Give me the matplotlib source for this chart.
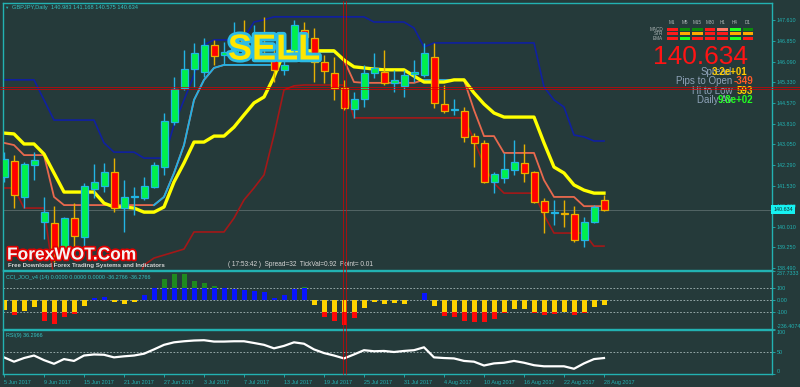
import matplotlib
matplotlib.use("Agg")
import matplotlib.pyplot as plt
import matplotlib.patheffects as pe
from matplotlib.lines import Line2D
from matplotlib.patches import Rectangle

plt.rcParams['font.family'] = ['Liberation Sans', 'DejaVu Sans']

# ---- data (GBPJPY daily, 5 Jun - 28 Aug 2017) ----
date_labels = ['5 Jun 2017', '9 Jun 2017', '15 Jun 2017', '21 Jun 2017', '27 Jun 2017',
               '3 Jul 2017', '7 Jul 2017', '13 Jul 2017', '19 Jul 2017', '25 Jul 2017',
               '31 Jul 2017', '4 Aug 2017', '10 Aug 2017', '16 Aug 2017', '22 Aug 2017',
               '28 Aug 2017']

opens = [141.84, 142.43, 141.11, 142.28, 140.18, 140.15, 139.19, 140.33, 139.63, 141.40,
         141.51, 142.03, 140.70, 141.11, 141.07, 141.47, 142.21, 143.87, 145.12, 145.82,
         145.71, 146.71, 146.34, 146.45, 146.96, 146.52, 146.78, 146.23, 145.79, 146.52,
         147.26, 146.96, 146.08, 145.68, 145.12, 144.35, 144.72, 145.68, 145.71, 145.31,
         145.20, 145.64, 145.60, 146.26, 144.53, 144.31, 144.27, 143.35, 143.10, 141.66,
         141.81, 142.10, 142.36, 142.03, 140.96, 140.52, 140.52, 140.48, 139.52, 140.18,
         140.983]
highs = [142.76, 142.65, 142.40, 142.76, 141.11, 140.77, 140.37, 140.88, 141.62, 142.32,
         142.36, 142.54, 141.73, 141.47, 141.84, 142.40, 144.20, 145.53, 146.52, 146.78,
         146.96, 146.89, 146.82, 147.55, 147.63, 147.44, 147.74, 146.71, 146.34, 147.63,
         147.55, 147.33, 146.34, 146.26, 145.42, 144.97, 145.97, 146.41, 146.52, 145.79,
         145.79, 146.15, 146.78, 146.78, 145.23, 144.72, 144.42, 143.46, 143.21, 142.03,
         142.73, 143.21, 143.06, 142.06, 141.07, 141.00, 141.00, 140.77, 140.37, 140.81,
         141.168]
lows = [141.66, 140.70, 140.70, 141.73, 139.56, 138.71, 139.04, 139.22, 139.22, 141.07,
        141.29, 140.55, 139.82, 140.44, 141.00, 141.44, 141.92, 143.76, 145.05, 145.16,
        145.53, 145.97, 145.97, 146.23, 146.34, 146.15, 146.34, 145.34, 145.60, 146.45,
        146.71, 145.34, 145.31, 144.68, 144.31, 144.02, 144.42, 145.49, 145.23, 144.97,
        144.79, 145.34, 145.53, 144.38, 144.20, 144.13, 143.13, 142.21, 141.62, 141.25,
        141.62, 141.92, 141.66, 140.88, 139.78, 140.07, 140.00, 139.45, 139.26, 140.15,
        140.575]
closes = [142.51, 141.18, 142.32, 142.47, 140.55, 139.19, 140.33, 139.67, 141.51, 141.66,
          142.03, 140.70, 141.11, 141.14, 141.51, 142.28, 143.91, 145.09, 145.82, 146.41,
          146.71, 146.30, 146.45, 146.96, 146.63, 146.89, 146.63, 145.79, 145.97, 147.44,
          147.00, 146.08, 145.75, 145.12, 144.38, 144.72, 145.68, 145.86, 145.31, 145.42,
          145.60, 145.71, 146.41, 144.57, 144.27, 144.33, 143.32, 143.10, 141.66, 141.95,
          142.14, 142.40, 141.99, 140.92, 140.55, 140.54, 140.50, 139.52, 140.18, 140.74,
          140.634]

upper_band = [145.42, 145.42, 145.42, 145.42, 144.68, 143.94, 143.94, 143.94, 143.94, 143.94,
              143.10, 142.76, 142.76, 142.76, 142.54, 142.54, 142.54, 143.76, 144.68, 145.60,
              146.71, 146.89, 146.89, 146.89, 146.96, 147.55, 147.63, 147.74, 147.74, 147.74,
              147.74, 147.74, 147.74, 147.74, 147.74, 147.74, 147.74, 147.55, 147.55, 147.55,
              147.55, 147.33, 146.63, 146.78, 146.78, 146.78, 146.78, 146.78, 146.78, 146.78,
              146.78, 146.78, 146.78, 146.78, 145.16, 144.68, 144.42, 143.39, 143.32, 143.17,
              143.17]
lower_band = [141.44, 141.44, 140.70, 140.70, 140.70, 138.05, 137.68, 137.68, 137.68, 137.68,
              137.68, 137.68, 137.68, 137.68, 138.60, 138.86, 138.97, 139.08, 139.19, 139.82,
              139.82, 139.82, 139.82, 140.33, 141.00, 141.44, 141.92, 143.39, 145.05, 145.20,
              145.23, 145.23, 145.23, 145.23, 145.23, 144.02, 144.02, 144.02, 144.02, 144.02,
              144.02, 144.02, 144.02, 144.02, 144.02, 144.02, 144.02, 143.21, 142.28, 141.62,
              141.25, 141.25, 141.25, 141.25, 140.44, 139.78, 139.78, 139.78, 139.78, 139.30,
              139.30]
slow_line = [143.46, 143.43, 143.06, 143.06, 142.69, 141.99, 141.29, 141.29, 141.29, 141.29,
             140.88, 140.74, 140.74, 140.70, 140.55, 140.55, 140.74, 141.66, 142.36, 143.13,
             143.13, 143.35, 143.35, 143.68, 144.13, 144.57, 144.79, 145.53, 146.45, 146.49,
             146.49, 146.49, 146.49, 146.49, 146.15, 145.90, 145.86, 145.82, 145.79, 145.79,
             145.79, 145.56, 145.34, 145.34, 145.34, 145.42, 145.42, 144.94, 144.53, 144.20,
             144.05, 144.05, 144.05, 144.05, 143.10, 142.21, 141.99, 141.55, 141.36, 141.25,
             141.25]
fast_line = [143.10, 143.02, 142.65, 142.65, 142.65, 141.11, 140.81, 140.81, 140.81, 140.81,
             140.81, 140.81, 140.81, 140.81, 140.81, 140.81, 141.11, 141.99, 143.02, 144.68,
             145.42, 145.86, 145.97, 145.97, 145.97, 145.97, 145.97, 145.97, 146.34, 146.45,
             146.45, 146.45, 146.45, 146.45, 146.15, 145.34, 145.31, 145.31, 145.31, 145.31,
             145.31, 145.31, 145.42, 145.42, 145.42, 145.42, 145.42, 144.31, 143.35, 143.35,
             142.73, 142.73, 142.73, 142.73, 141.73, 141.11, 141.11, 141.11, 140.77, 140.77,
             140.77]
fast_up_runs = [(15, 33), (42, 45)]

cci = [-83, -125, -90, -57, -170, -195, -140, -110, -50, 15,
       28, -12, -28, -17, 42, 98, 175, 215, 215, 160,
       140, 112, 95, 90, 85, 78, 62, 20, 40, 88,
       105, -38, -135, -175, -200, -145, -62, -17, -28, -22,
       -30, 3, 55, -50, -130, -135, -170, -180, -180, -155,
       -105, -75, -75, -105, -120, -112, -97, -120, -102, -55,
       -36.2766]
rsi = [37.8, 28.0, 36.3, 42.0, 31.5, 23.2, 33.9, 29.7, 42.0, 44.4,
       43.7, 37.8, 40.2, 42.0, 46.1, 55.9, 66.3, 72.0, 74.4, 76.1,
       76.8, 73.7, 73.7, 74.4, 74.4, 70.5, 66.3, 58.3, 63.9, 72.0,
       68.8, 55.9, 47.6, 42.0, 35.4, 44.4, 54.1, 51.7, 52.4, 50.0,
       52.4, 54.1, 60.7, 37.8, 36.3, 35.4, 29.7, 28.0, 19.3, 24.1,
       25.6, 29.7, 25.6, 20.0, 17.5, 17.5, 17.5, 11.9, 24.1, 33.9,
       36.30]

price_ticks = [138.490, 139.250, 140.010, 140.770, 141.530, 142.290, 143.050,
               143.810, 144.570, 145.330, 146.090, 146.850, 147.610]
cci_ticks = [237.7333, 100, 0, -100, -236.4074]
cci_tick_labels = ['237.7333', '100', '0.00', '-100', '-236.4074']
rsi_ticks = [100, 50, 0]

timeframes = ['M1', 'M5', 'M15', 'M30', 'H1', 'H4', 'D1']
signal_rows = ['MACD', 'STR', 'EMA']
signal_colors = [
    ['#ff1a1a', '#0c8a0c', '#0c8a0c', '#ff1a1a', '#ff7a66', '#22ff22', '#0c8a0c'],
    ['#ff1a1a', '#ffaa00', '#ffaa00', '#ff1a1a', '#ff1a1a', '#ffaa00', '#ffaa00'],
    ['#ff1a1a', '#22ff22', '#ff1a1a', '#ff1a1a', '#ff1a1a', '#22ff22', '#ff1a1a'],
]
info_rows = [('Spread', '3.2e+01', '#ffcc00', 747, 72),
             ('Pips to Open', '-349', '#ff5a28', 753, 81),
             ('Hi to Low', '593', '#ffcc00', 753, 91),
             ('Daily Av', '9.8e+02', '#22ff22', 753, 100)]

# ---- styling ----
BG = '#253a3a'
TEAL = '#22b2b2'
W, H = 800, 387

fig = plt.figure(figsize=(8, 3.87), dpi=100)
fig.patch.set_facecolor(BG)


def box(x0, y0, x1, y1):
    return [x0 / W, 1 - y1 / H, (x1 - x0) / W, (y1 - y0) / H]


ax = fig.add_axes(box(3, 3, 772, 270))
axc = fig.add_axes(box(3, 271, 772, 329))
axr = fig.add_axes(box(3, 330, 772, 374))

for a in (ax, axc, axr):
    a.set_facecolor(BG)
    a.set_xlim(-0.1, 76.8)
    for s in a.spines.values():
        s.set_color(TEAL)
        s.set_linewidth(1.0)
    a.yaxis.tick_right()
    a.tick_params(axis='y', colors=TEAL, labelsize=3.9, length=2, pad=1.5, width=0.6)
    a.tick_params(axis='x', colors=TEAL, labelsize=3.9, length=2, pad=2, width=0.6)
    a.set_xticks([])

x = list(range(len(closes)))

# ---- main price panel ----
ax.set_ylim(138.42, 148.25)
ax.set_yticks(price_ticks)
ax.set_yticklabels(['%.3f' % p for p in price_ticks])

ax.plot(x, upper_band, color='#1020a0', lw=1.2, zorder=2)
ax.plot(x, lower_band, color='#a31818', lw=1.2, zorder=2)
ax.plot(x, fast_line, color='#e8694e', lw=1.3, zorder=2)
for a0, a1 in fast_up_runs:
    ax.plot(x[a0:a1 + 1], fast_line[a0:a1 + 1], color='#1fb0e6', lw=1.3, zorder=2.1)
ax.plot(x, slow_line, color='#ffff00', lw=2.4, zorder=2.2)
ax.axhline(closes[-1], color='#5a6c6c', lw=0.6, zorder=1)

for i, (o, h, l, c) in enumerate(zip(opens, highs, lows, closes)):
    bull = c >= o
    body = '#00f04c' if bull else '#ff0000'
    edge = '#22b4e4' if bull else '#e8b000'
    ax.vlines(i, l, h, color=edge, lw=1.0, zorder=3)
    ax.bar(i, max(abs(c - o), 0.012), bottom=min(o, c), width=0.7, color=body,
           edgecolor=edge, linewidth=0.9, zorder=4)

ax.text(1.0015, closes[-1], '%.3f' % closes[-1], transform=ax.get_yaxis_transform(),
        fontsize=3.9, color='#10302f', va='center', ha='left', zorder=10, clip_on=False,
        bbox=dict(boxstyle='square,pad=0.35', fc='#16f2f2', ec='none'))

# ---- CCI panel ----
axc.set_ylim(-236.4074, 237.7333)
axc.set_yticks(cci_ticks)
axc.set_yticklabels(cci_tick_labels)
for lvl in (100, 0, -100):
    axc.axhline(lvl, color='#a8baba', lw=0.6, ls=(0, (2, 2)), zorder=1)
for i, v in enumerate(cci):
    if v >= 0:
        axc.bar(i, min(v, 100), width=0.5, color='#0814ff', zorder=2)
        if v > 100:
            axc.bar(i, v - 100, bottom=100, width=0.5, color='#1f8a1f', zorder=2)
    else:
        axc.bar(i, max(v, -100), width=0.5, color='#ffd500', zorder=2)
        if v < -100:
            axc.bar(i, v + 100, bottom=-100, width=0.5, color='#ff0a0a', zorder=2)

# ---- RSI panel ----
axr.set_ylim(0, 100)
axr.set_yticks(rsi_ticks)
axr.set_yticklabels([str(t) for t in rsi_ticks])
axr.axhline(50, color='#a8baba', lw=0.6, ls=(0, (2, 2)), zorder=1)
axr.plot(x, rsi, color='white', lw=1.6, zorder=2)
axr.set_xticks(range(0, len(closes), 4))
axr.set_xticklabels(date_labels, ha='left')

# edge labels of the indicator scales sit inside their panel
for a in (axc, axr):
    labs = a.get_yticklabels()
    labs[0].set_va('top')
    labs[-1].set_va('bottom')

# ---- texts ----
fig.text(4.5 / W, 1 - 8 / H, '\u25bc', fontsize=3.2, color=TEAL, va='center')
fig.text(12 / W, 1 - 8 / H, 'GBPJPY,Daily  140.983 141.168 140.575 140.634',
         fontsize=4.1, color='#34c4c4', va='center')
fig.text(6 / W, 1 - 277 / H, 'CCI_JOO_v4 (14) 0.0000 0.0000 0.0000 -36.2766 -36.2766',
         fontsize=3.9, color='#34c4c4', va='center')
fig.text(6 / W, 1 - 335 / H, 'RSI(9) 36.2966', fontsize=3.9, color='#34c4c4', va='center')

fig.text(274 / W, 1 - 50 / H, 'SELL', fontsize=26, fontweight='bold', color='#ffe600',
         ha='center', va='center', zorder=20,
         path_effects=[pe.withStroke(linewidth=4, foreground='#2cbce6')])
fig.text(7 / W, 1 - 255 / H, 'ForexWOT.Com', fontsize=12.5, fontweight='bold',
         color='#f4f4f4', va='center', zorder=20,
         path_effects=[pe.withStroke(linewidth=2.5, foreground='#e00000')])
fig.text(8 / W, 1 - 265 / H, 'Free Download Forex Trading Systems and Indicators',
         fontsize=4.4, fontweight='bold', color='#d6d6d6', va='center', zorder=20)
fig.text(228 / W, 1 - 265 / H, '( 17:53:42 )  Spread=32  TickVal=0.92  Point= 0.01',
         fontsize=4.7, color='#d6d6d6', va='center', zorder=20)

# signal table, top right
for k, tf in enumerate(timeframes):
    cx = 667 + 12.6 * k
    fig.text((cx + 5) / W, 1 - 23 / H, tf, fontsize=3.3, color='#b0b8b8',
             ha='center', va='center')
    for r, row in enumerate(signal_colors):
        y0 = 28 + 4.5 * r
        fig.add_artist(Rectangle((cx / W, 1 - (y0 + 2.8) / H), 10.5 / W, 2.8 / H,
                                 transform=fig.transFigure, color=row[k], lw=0))
for r, name in enumerate(signal_rows):
    fig.text(663 / W, 1 - (29.4 + 4.5 * r) / H, name, fontsize=3.3, color='#b0b8b8',
             ha='right', va='center')

fig.text(748 / W, 1 - 57 / H, '140.634', fontsize=19, color='#ff1414',
         ha='right', va='center')
for label, val, col, xr, yy in info_rows:
    fig.text(732 / W, 1 - yy / H, label, fontsize=7, color='#8ea2b8', ha='right', va='center')
    fig.text(xr / W, 1 - yy / H, val, fontsize=7, fontweight='bold', color=col,
             ha='right', va='center')

# crosshair (double red lines)
for xv in (343.2, 345.8):
    fig.add_artist(Line2D([xv / W, xv / W], [1 - 374 / H, 1 - 1 / H],
                          transform=fig.transFigure, color='#d80000', lw=0.5, zorder=30))
for yv in (86.8, 89.2):
    fig.add_artist(Line2D([0, 1], [1 - yv / H, 1 - yv / H],
                          transform=fig.transFigure, color='#d80000', lw=0.5, zorder=30))

fig.savefig('out.png', dpi=100, facecolor=BG)
